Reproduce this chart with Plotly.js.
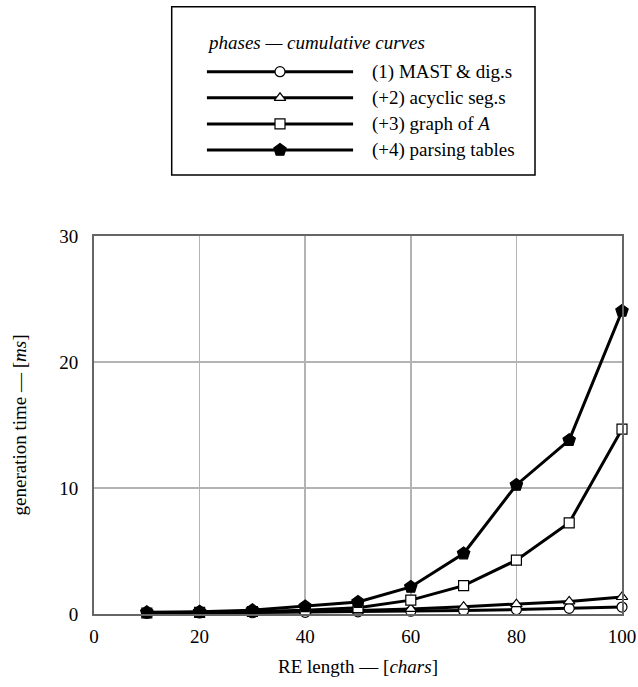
<!DOCTYPE html>
<html>
<head>
<meta charset="utf-8">
<script src="https://cdn.plot.ly/plotly-3.0.1.min.js"></script>
<style>html,body{margin:0;padding:0;background:#fff;}#chart{width:638px;height:687px;}</style>
</head>
<body>
<div id="chart"></div>
<script>
// ---- data ----
var reLength = [10, 20, 30, 40, 50, 60, 70, 80, 90, 100];
var phase1 = [0.05, 0.08, 0.10, 0.13, 0.17, 0.22, 0.28, 0.35, 0.45, 0.55];
var phase2 = [0.06, 0.10, 0.14, 0.20, 0.28, 0.40, 0.58, 0.78, 1.00, 1.35];
var phase3 = [0.08, 0.13, 0.20, 0.30, 0.50, 1.10, 2.25, 4.27, 7.24, 14.67];
var phase4 = [0.13, 0.18, 0.30, 0.60, 0.95, 2.15, 4.80, 10.24, 13.80, 24.05];
var seriesNames = ["(1) MAST &amp; dig.s", "(+2) acyclic seg.s", "(+3) graph of <i>A</i>", "(+4) parsing tables"];
var legendTitle = "<i>phases — cumulative curves</i>";
var xTicks = [0, 20, 40, 60, 80, 100];
var yTicks = [0, 10, 20, 30];

// ---- geometry helpers (pixel -> paper) ----
var W = 638, H = 687;
var M = {l: 94, r: 16, t: 6, b: 73};
var pw = W - M.l - M.r, ph = H - M.t - M.b;
function px(x) { return (x - M.l) / pw; }
function py(y) { return (H - M.b - y) / ph; }

var FONT = "Liberation Serif";
var symbols = ["circle", "triangle-up", "square", "pentagon"];
var fills = ["#ffffff", "#ffffff", "#ffffff", "#000000"];
var sizes = [10, 10, 10, 13];
var allSeries = [phase1, phase2, phase3, phase4];

var traces = [];
allSeries.forEach(function (s, i) {
  traces.push({
    x: reLength, y: s, type: "scatter", mode: "lines+markers",
    line: {color: "#000", width: 3},
    marker: {symbol: symbols[i], size: sizes[i], color: fills[i], line: {color: "#000", width: 1.2}},
    cliponaxis: false, showlegend: false, hoverinfo: "skip"
  });
});

// legend samples on hidden axes
for (var k = 0; k < 4; k++) {
  traces.push({
    x: [0, 1], y: [k, k], xaxis: "x2", yaxis: "y2", type: "scatter", mode: "lines",
    line: {color: "#000", width: 3}, showlegend: false, hoverinfo: "skip", cliponaxis: false
  });
  traces.push({
    x: [0.5], y: [k], xaxis: "x2", yaxis: "y2", type: "scatter", mode: "markers",
    marker: {symbol: symbols[k], size: sizes[k], color: fills[k], line: {color: "#000", width: 1.2}},
    showlegend: false, hoverinfo: "skip", cliponaxis: false
  });
}

var annotations = [];
annotations.push({
  xref: "paper", yref: "paper", x: px(205), y: py(43), xanchor: "left", yanchor: "middle",
  text: legendTitle, showarrow: false, font: {family: FONT, size: 19, color: "#000"}
});
var entryY = [71.7, 97.8, 123.9, 150.0];
seriesNames.forEach(function (n, i) {
  annotations.push({
    xref: "paper", yref: "paper", x: px(370), y: py(entryY[i]), xanchor: "left", yanchor: "middle",
    text: n, showarrow: false, font: {family: FONT, size: 19, color: "#000"}
  });
});

var layout = {
  width: W, height: H, margin: M,
  paper_bgcolor: "#fff", plot_bgcolor: "#fff",
  font: {family: FONT, size: 19, color: "#000"},
  showlegend: false,
  xaxis: {
    range: [0, 100], tickvals: xTicks, ticktext: xTicks.map(String),
    showgrid: true, gridcolor: "#b3b3b3", gridwidth: 1.5,
    showline: true, linecolor: "#666", linewidth: 2, mirror: true,
    zeroline: false, ticks: "", ticklabelstandoff: 4,
    tickfont: {family: FONT, size: 19, color: "#000"},
    title: {text: "RE length — [<i>chars</i>]", font: {family: FONT, size: 19, color: "#000"}, standoff: 14},
    domain: [0, 1], anchor: "y"
  },
  yaxis: {
    range: [0, 30], tickvals: yTicks, ticktext: yTicks.map(String),
    showgrid: true, gridcolor: "#b3b3b3", gridwidth: 1.5,
    showline: true, linecolor: "#666", linewidth: 2, mirror: true,
    zeroline: false, ticks: "", ticklabelstandoff: 10,
    tickfont: {family: FONT, size: 19, color: "#000"},
    title: {text: "generation time — [<i>ms</i>]", font: {family: FONT, size: 19, color: "#000"}, standoff: 28},
    domain: [0, py(236)], anchor: "x"
  },
  xaxis2: {
    range: [0, 1], domain: [px(206.7), px(353.3)], anchor: "y2",
    visible: false, showgrid: false, zeroline: false, fixedrange: true
  },
  yaxis2: {
    range: [3.5, -0.5], domain: [py(163.05), py(58.65)], anchor: "x2",
    visible: false, showgrid: false, zeroline: false, fixedrange: true
  },
  shapes: [{
    type: "rect", xref: "paper", yref: "paper",
    x0: px(171.7), x1: px(535), y0: py(175), y1: py(6.7),
    line: {color: "#000", width: 1.5}, fillcolor: "rgba(0,0,0,0)"
  }],
  annotations: annotations
};

Plotly.newPlot("chart", traces, layout, {displayModeBar: false, staticPlot: true});
</script>
</body>
</html>
